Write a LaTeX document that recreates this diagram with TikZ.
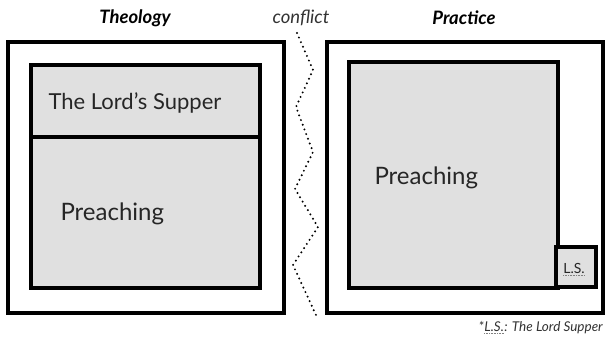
\documentclass[tikz,border=0pt]{standalone}
\usepackage{fontspec}
\setmainfont{Lato}
\begin{document}
\begin{tikzpicture}[x=1pt,y=-1pt,
  outerbox/.style={draw,line width=3.1pt,rectangle,inner sep=0pt},
  innerbox/.style={draw,line width=3.1pt,rectangle,inner sep=0pt,fill=boxgray},
  title/.style={font=\fontsize{18.5}{22}\selectfont\bfseries\itshape},
  lbl/.style={font=\fontsize{24}{28}\selectfont,text=black!85},
  dots/.style={line width=2.2pt,line cap=round,dash pattern=on 0pt off 5pt},
  squig/.style={line width=0.7pt,gray,dash pattern=on 0.8pt off 0.8pt},
  fnote/.style={font=\fontsize{13.5}{15}\selectfont\itshape,text=black!80,inner sep=0pt}
]
\definecolor{boxgray}{HTML}{E0E0E0}
\useasboundingbox (0,0) rectangle (606,339);
% left
\node[outerbox,minimum width=276pt,minimum height=271pt] (lout) at (146,177.5) {};
\node[innerbox,minimum width=229pt,minimum height=72pt] (lsup) at (145.5,101) {};
\node[innerbox,minimum width=229pt,minimum height=151pt] (lpre) at (145.5,212.5) {};
\node[lbl,font=\fontsize{22}{26}\selectfont,anchor=west] (tls) at (45,103) {The Lord's Supper};
\node[lbl,anchor=west] (tpl) at (57,214) {Preaching};
% right
\node[outerbox,minimum width=276pt,minimum height=271pt] (rout) at (465,177.5) {};
\node[innerbox,minimum width=209pt,minimum height=226pt] (rpre) at (453.5,175) {};
\node[innerbox,minimum width=40pt,minimum height=40pt] (rls) at (576,267) {};
\node[lbl,anchor=west] (tpr) at (371,178) {Preaching};
\node[font=\fontsize{14}{16}\selectfont,text=black!85,inner sep=0pt] (tlsr) at (574,268) {L.S.};
\draw[squig] ([yshift=-2pt]tlsr.south west) -- ([yshift=-2pt]tlsr.south east);
% titles
\node[title] (tth) at (135,18) {Theology};
\node[font=\fontsize{18.5}{22}\selectfont\itshape,text=black!80] (tcf) at (301,18) {conflict};
\node[title] (tpc) at (464,18) {Practice};
% zigzag
\coordinate (z0) at (297,33);
\coordinate (z1) at (313,70);
\coordinate (z2) at (296,107);
\coordinate (z3) at (313,152);
\coordinate (z4) at (295,189);
\coordinate (z5) at (318,227);
\coordinate (z6) at (293,265);
\coordinate (z7) at (316,315);
\draw[dots] (z0) -- (z1) -- (z2) -- (z3) -- (z4) -- (z5) -- (z6) -- (z7);
% footnote
\node[fnote,anchor=base east] (fnrest) at (603,332) {: The Lord Supper};
\node[fnote,anchor=base east] (fnls) at (fnrest.base west) {L.S.};
\node[fnote,anchor=base east] (fnstar) at (fnls.base west) {*};
\draw[squig] ([yshift=-1.5pt]fnls.south west) -- ([yshift=-1.5pt]fnls.south east);
\end{tikzpicture}
\end{document}
